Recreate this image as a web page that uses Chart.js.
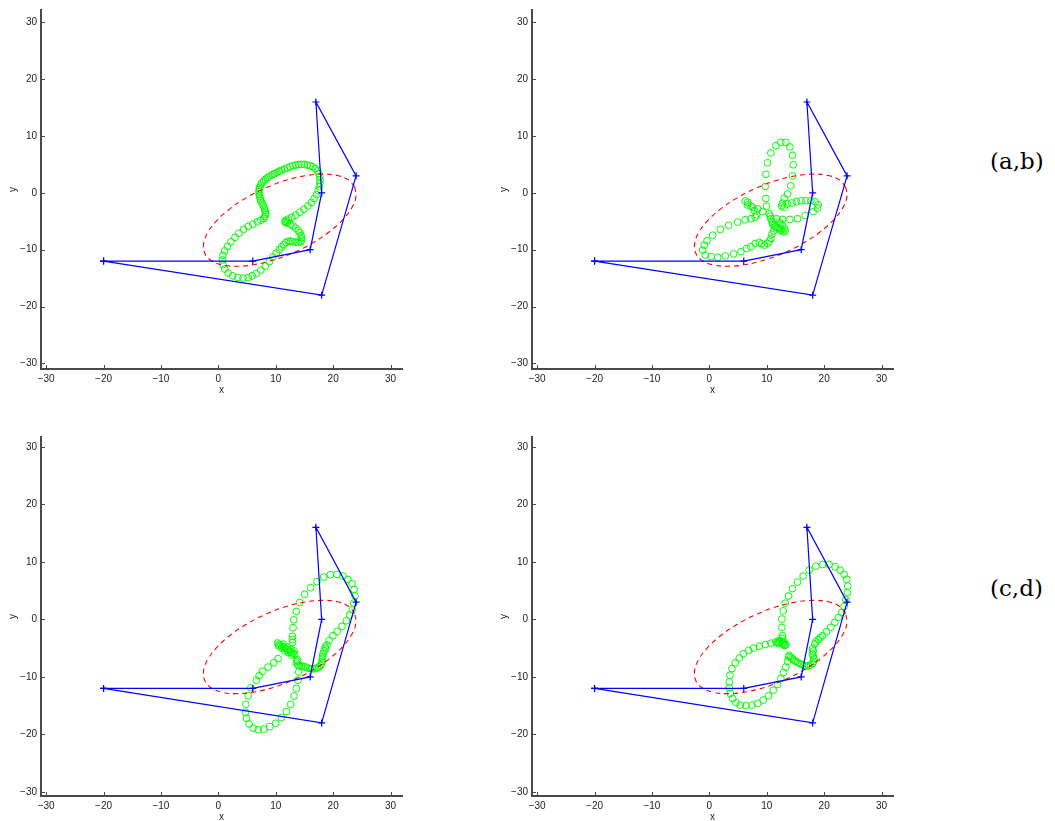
<!DOCTYPE html>
<html>
<head>
<meta charset="utf-8">
<script src="https://cdn.jsdelivr.net/npm/chart.js@4.4.1/dist/chart.umd.min.js"></script>
<style>
  html, body { margin: 0; padding: 0; background: #fff; overflow: hidden; }
  body { width: 1055px; height: 821px; position: relative; }
  canvas { position: absolute; }
  .tag { position: absolute; font-family: "DejaVu Serif", serif; font-size: 23px; color: #000; }
</style>
</head>
<body>
<canvas id="pa" width="420" height="400" style="left:0px;top:0px"></canvas>
<canvas id="pb" width="420" height="400" style="left:491px;top:0px"></canvas>
<canvas id="pc" width="420" height="400" style="left:0px;top:427px"></canvas>
<canvas id="pd" width="420" height="400" style="left:491px;top:427px"></canvas>
<div class="tag" style="left:990px;top:148px">(a,b)</div>
<div class="tag" style="left:990px;top:575px">(c,d)</div>
<script>
// 多角形（青）
var polyX = [-20, 6, 16, 18, 17, 24, 18, -20];
var polyY = [-12, -12, -10, 0, 16, 3, -18, -12];

// 楕円（赤の破線）
var ellX = [23.76, 22.67, 20.75, 18.15, 15.05, 11.65, 8.18, 4.89, 1.99, -0.31, -1.87, -2.57,
            -2.36, -1.27, 0.65, 3.25, 6.35, 9.75, 13.22, 16.51, 19.41, 21.71, 23.27, 23.97, 23.76];
var ellY = [1.02, 2.29, 3.07, 3.31, 3.01, 2.18, 0.86, -0.84, -2.81, -4.91, -7.01, -8.95,
            -10.62, -11.89, -12.67, -12.91, -12.61, -11.78, -10.46, -8.76, -6.79, -4.69, -2.59, -0.65, 1.02];

// 目盛
var tickStep = 10;
var xRange = [-30.9, 32];
var yRangeTop = [-31, 32.2];
var yRangeBottom = [-30.7, 31.7];

// 緑の丸 (a)
var curveA = [
  [5.2,-14.9],[4.3,-15.0],[3.4,-14.9],[2.5,-14.6],[1.7,-14.1],[1.1,-13.4],[0.8,-12.6],[0.7,-11.8],[0.8,-11.0],[1.1,-10.2],
  [1.6,-9.4],[2.2,-8.6],[2.9,-7.8],[3.6,-7.1],[4.4,-6.4],[5.2,-5.9],[6.0,-5.5],[6.8,-5.1],[7.4,-4.8],[7.9,-4.5],
  [8.1,-4.2],[8.2,-3.8],[8.2,-3.4],[8.1,-3.0],[8.0,-2.6],[7.8,-2.2],[7.6,-1.8],[7.4,-1.4],[7.3,-1.0],[7.2,-0.6],
  [7.1,-0.2],[7.1,0.2],[7.1,0.6],[7.2,1.0],[7.4,1.4],[7.6,1.8],[7.9,2.1],[8.2,2.4],[8.6,2.7],[9.0,3.0],
  [9.4,3.2],[9.8,3.4],[10.2,3.6],[10.6,3.8],[11.0,4.0],[11.5,4.2],[12.0,4.4],[12.5,4.6],[13.0,4.8],[13.5,4.9],
  [14.0,5.0],[14.5,5.0],[15.0,5.0],[15.5,4.9],[16.0,4.8],[16.5,4.6],[16.9,4.3],[17.3,3.9],[17.5,3.4],[17.7,2.9],
  [17.7,2.3],[17.7,1.7],[17.6,1.1],[17.4,0.4],[17.1,-0.3],[16.7,-1.0],[16.2,-1.7],[15.6,-2.3],[14.9,-2.9],[14.2,-3.4],
  [13.5,-3.9],[12.8,-4.3],[12.2,-4.6],[11.8,-4.8],[11.6,-5.0],[11.7,-5.2],[12.0,-5.3],[12.5,-5.5],[13.0,-5.8],[13.5,-6.2],
  [13.9,-6.6],[14.2,-7.0],[14.4,-7.5],[14.5,-7.9],[14.5,-8.3],[14.3,-8.6],[13.9,-8.7],[13.5,-8.7],[13.0,-8.6],[12.6,-8.5],
  [12.2,-8.5],[11.8,-8.7],[11.4,-9.1],[11.0,-9.5],[10.6,-10.0],[10.1,-10.6],[9.5,-11.3],[8.9,-12.1],[8.2,-12.9],[7.4,-13.6],
  [6.6,-14.2],[5.9,-14.6]
];

// 緑の丸 (b)
var curveB = [
  [10.72,7.04],[11.59,8.32],[12.46,8.90],[13.33,8.90],[14.03,8.09],[14.49,6.64],[14.61,4.96],[14.49,2.99],[14.20,1.25],[13.62,-0.20],
  [13.04,-0.96],[12.75,-1.8],[12.6,-2.3],[10.14,5.30],[9.86,3.28],[9.74,1.13],[9.86,-0.96],[9.97,-2.35],
  [13.04,-2.52],[13.62,-1.94],[14.38,-1.77],[15.19,-1.54],[16.00,-1.36],[16.81,-1.36],[17.68,-1.36],[18.43,-1.54],[18.96,-2.12],[18.84,-2.70],
  [18.09,-3.28],[16.70,-3.97],[15.36,-4.55],[14.03,-4.67],[12.75,-4.67],[11.71,-4.55],
  [10.43,-3.68],[10.60,-4.10],[10.72,-4.55],[10.90,-5.00],[11.01,-5.42],[11.25,-5.75],[11.48,-6.00],[11.80,-6.15],[12.17,-6.29],[12.50,-6.55],
  [12.87,-6.87],[13.22,-6.75],[13.10,-6.30],[12.75,-5.71],[12.45,-5.40],[12.17,-5.13],[12.46,-6.58],[11.2,-6.7],[10.9,-7.3],
  [10.72,-8.03],[10.45,-8.50],[10.14,-8.90],[9.57,-9.19],[9.10,-8.95],[8.70,-8.72],[8.00,-8.90],[7.25,-9.48],[6.49,-9.77],[5.51,-10.35],
  [4.23,-10.75],[2.78,-11.10],[1.45,-11.33],[0.29,-11.22],[-0.70,-10.93],[-1.16,-10.06],[-0.87,-9.19],[-0.41,-8.43],[0.58,-7.45],[1.91,-6.41],
  [3.36,-5.71],[4.93,-5.13],[6.26,-4.72],[7.25,-4.55],[8.00,-4.26],[8.23,-3.86],[7.83,-3.10],[7.25,-2.35],[6.67,-1.65],[6.26,-1.42],
  [6.67,-2.12],[7.54,-2.52],[8.41,-2.81],[9.28,-3.28]
];

// 緑の丸 (c)
var curveC = [
  [15.04,4.37],[16.09,5.52],[17.19,6.55],[18.35,7.36],[19.51,7.76],[20.67,7.82],[21.71,7.53],[22.58,6.95],[23.28,6.21],[23.68,5.23],
  [23.80,4.08],[23.57,2.82],[23.33,1.67],[22.87,0.75],[22.29,-0.23],[21.54,-1.21],[20.72,-2.07],[19.97,-2.82],[19.28,-3.68],[18.93,-4.43],
  [18.70,-5.11],[18.23,-5.98],[18.12,-6.84],[17.94,-7.70],[17.54,-8.28],[16.78,-8.56],[16.03,-8.56],[15.22,-8.28],[14.46,-8.10],[13.88,-7.99],
  [13.71,-7.30],[18.6,-4.8],[18.4,-5.5],[18.2,-6.4],[18.05,-7.3],[17.8,-8.0],[17.2,-8.45],[16.4,-8.6],[15.6,-8.45],[14.85,-8.2],
  [14.1,-8.05],[13.6,-7.6],[13.75,-7.0],
  [14.17,2.93],[13.59,1.38],[13.13,-0.06],[13.01,-1.44],[12.90,-2.93],[12.9,-3.5],[12.95,-4.0],
  [10.3,-4.1],[10.6,-4.3],[10.9,-4.5],[11.2,-4.7],[11.5,-4.9],[11.8,-5.1],[12.1,-5.3],[12.4,-5.5],[12.7,-5.7],[13.0,-5.9],
  [13.3,-6.1],[10.5,-4.6],[11.0,-5.0],[11.6,-5.5],[12.2,-5.8],[12.8,-6.2],[11.3,-4.3],[12.0,-4.8],[12.6,-5.2],[13.2,-5.5],
  [10.41,-6.84],[9.65,-7.53],[8.67,-8.28],[7.68,-9.02],[7.1,-9.8],[6.64,-10.57],[5.65,-11.90],[5.19,-13.28],[4.78,-14.77],[4.72,-16.15],
  [4.90,-17.18],[5.36,-18.16],[6.06,-18.91],[6.93,-19.20],[7.91,-19.08],[8.96,-18.62],[10.00,-18.05],[10.99,-17.07],[11.86,-16.03],[12.61,-14.77],
  [13.19,-13.33],[13.59,-12.01],[13.88,-10.57],[14.00,-9.14]
];

// 緑の丸 (d)
var curveD = [
  [12.75,-2.82],[12.64,-1.38],[12.64,0.06],[12.87,1.49],[13.22,2.82],[13.80,4.08],[14.49,5.34],[15.36,6.49],[16.35,7.53],[17.39,8.56],
  [18.55,9.25],[19.71,9.54],[20.87,9.54],[21.91,9.14],[22.78,8.56],[23.48,7.82],[23.94,6.95],[24.12,5.80],[24.06,4.66],[23.77,3.39],
  [23.48,2.24],[23.07,1.21],[22.49,0.34],[21.86,-0.52],[21.16,-1.38],[20.41,-2.13],[19.71,-2.82],[18.96,-3.51],[18.38,-4.25],[17.97,-5.11],
  [17.97,-5.98],[18.26,-6.84],[17.97,-7.70],[17.28,-8.10],[16.52,-7.99],[15.77,-7.70],[15.07,-7.30],[14.49,-6.84],[13.91,-6.26],
  [18.1,-5.5],[18.1,-6.4],[18.15,-7.3],[17.6,-7.95],[16.9,-8.1],[16.1,-7.85],[15.4,-7.5],[14.8,-7.1],[14.2,-6.55],[18.6,-3.9],[19.3,-3.2],
  [12.75,-4.25],[12.17,-3.97],[13.04,-4.54],[13.33,-4.43],[12.2,-3.6],[12.5,-3.8],[12.9,-4.1],[13.2,-4.4],[12.7,-3.3],[13.0,-3.9],
  [11.6,-3.9],[12.0,-4.2],
  [11.88,-3.97],[10.72,-4.14],[9.74,-4.37],[8.70,-4.66],[7.71,-5.00],[6.84,-5.40],[5.91,-5.98],[5.22,-6.72],[4.52,-7.53],[3.94,-8.56],
  [3.59,-9.71],[3.48,-10.86],[3.48,-11.90],[3.65,-12.87],[4.06,-13.74],[4.64,-14.48],[5.39,-14.89],[6.38,-15.00],[7.42,-14.89],[8.41,-14.60],
  [9.39,-14.02],[10.32,-13.28],[11.13,-12.30],[11.88,-11.32],[12.46,-10.29],[12.93,-9.25],[13.33,-8.28],[13.62,-7.30],[13.80,-6.55]
];

var axisColor = '#4a4a4a';
var labelFont = { family: '"Liberation Sans", Arial, sans-serif', size: 10 };

// 内向きの目盛線
var inwardTicks = {
  id: 'inwardTicks',
  afterDraw: function(chart) {
    var ctx = chart.ctx, a = chart.chartArea;
    var sx = chart.scales.x, sy = chart.scales.y;
    ctx.save();
    ctx.strokeStyle = axisColor;
    ctx.lineWidth = 1;
    ctx.beginPath();
    sx.ticks.forEach(function(t) {
      var p = Math.round(sx.getPixelForValue(t.value)) + 0.5;
      ctx.moveTo(p, a.bottom);
      ctx.lineTo(p, a.bottom - 4);
    });
    sy.ticks.forEach(function(t) {
      var p = Math.round(sy.getPixelForValue(t.value)) + 0.5;
      ctx.moveTo(a.left, p);
      ctx.lineTo(a.left + 4, p);
    });
    ctx.stroke();
    ctx.restore();
  }
};

function toPoints(xs, ys) {
  return xs.map(function(x, i) { return { x: x, y: ys[i] }; });
}

function minusSign(v) {
  return String(v).replace('-', '\u2212');
}

function makePanel(id, curve, yRange) {
  new Chart(document.getElementById(id), {
    type: 'scatter',
    data: {
      datasets: [{
        data: toPoints(polyX, polyY),
        showLine: true,
        borderColor: '#0000ff',
        borderWidth: 1.2,
        pointStyle: 'cross',
        pointRadius: 3.5,
        pointBorderColor: '#0000ff',
        pointBorderWidth: 1.2,
        order: 1
      }, {
        data: toPoints(ellX, ellY),
        showLine: true,
        borderColor: '#ff0000',
        borderWidth: 1.1,
        borderDash: [5, 4],
        tension: 0.4,
        pointRadius: 0,
        order: 2
      }, {
        data: curve.map(function(p) { return { x: p[0], y: p[1] }; }),
        showLine: false,
        pointStyle: 'circle',
        pointRadius: 3.4,
        pointBackgroundColor: 'rgba(0,0,0,0)',
        pointBorderColor: '#00ff00',
        pointBorderWidth: 1,
        order: 3
      }]
    },
    options: {
      responsive: false,
      animation: false,
      layout: { padding: { top: 5, right: 18, left: 0, bottom: 0 } },
      plugins: { legend: { display: false }, tooltip: { enabled: false } },
      scales: {
        x: {
          type: 'linear',
          min: xRange[0],
          max: xRange[1],
          afterFit: function(s) { s.height = 31; },
          grid: { display: false, drawTicks: false },
          border: { display: true, color: axisColor, width: 2 },
          ticks: { stepSize: tickStep, includeBounds: false, padding: 4, color: '#222', font: labelFont, callback: minusSign, maxRotation: 0 },
          title: { display: true, text: 'x', color: '#222', font: labelFont, padding: { top: 0, bottom: 4 } }
        },
        y: {
          type: 'linear',
          min: yRange[0],
          max: yRange[1],
          afterFit: function(s) { s.width = 41; },
          grid: { display: false, drawTicks: false },
          border: { display: true, color: axisColor, width: 2 },
          ticks: { stepSize: tickStep, includeBounds: false, padding: 4, color: '#222', font: labelFont, callback: minusSign },
          title: { display: true, text: 'y', color: '#222', font: labelFont, padding: { top: 7, bottom: 0 } }
        }
      }
    },
    plugins: [inwardTicks]
  });
}

makePanel('pa', curveA, yRangeTop);
makePanel('pb', curveB, yRangeTop);
makePanel('pc', curveC, yRangeBottom);
makePanel('pd', curveD, yRangeBottom);
</script>
</body>
</html>
